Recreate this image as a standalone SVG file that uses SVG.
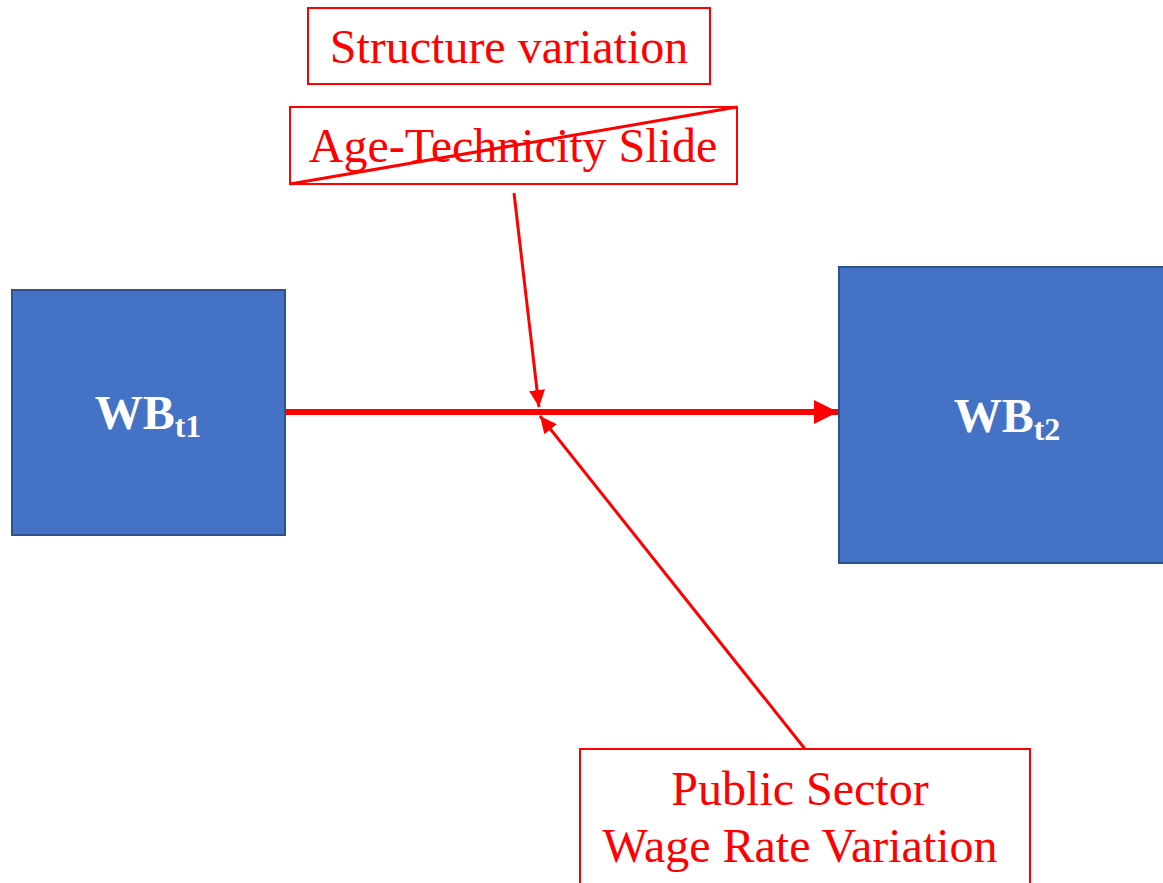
<svg xmlns="http://www.w3.org/2000/svg" width="1163" height="883" viewBox="0 0 1163 883">
<style>
.lbl{fill:none;stroke:#FF0000;stroke-width:2}
.rt{font-family:"Liberation Serif","Times New Roman",serif;font-size:48px;fill:#FF0000;text-anchor:middle}
.wb{fill:#4472C4;stroke:#2F528F;stroke-width:2}
.wt{font-family:"Liberation Serif","Times New Roman",serif;font-weight:bold;font-size:48px;fill:#FFFFFF;text-anchor:middle}
.sub{font-size:32px}
.con{stroke:#FF0000;fill:none}
</style>
<defs>
<marker id="ahBig" markerUnits="userSpaceOnUse" markerWidth="26" markerHeight="26" refX="24" refY="12" orient="auto">
<path d="M0,0 L24,12 L0,24 Z" fill="#FF0000"/>
</marker>
<marker id="ahSmall" markerUnits="userSpaceOnUse" markerWidth="18" markerHeight="18" refX="17" refY="8" orient="auto">
<path d="M0,0 L17,8 L0,16 Z" fill="#FF0000"/>
</marker>
</defs>
<rect width="1163" height="883" fill="#FFFFFF"/>
<g id="structure">
<rect class="lbl" x="308" y="8" width="402" height="76"/>
<text class="rt" x="509" y="63">Structure variation</text>
</g>
<g id="age">
<rect class="lbl" x="290" y="107" width="447" height="77"/>
<text class="rt" x="513" y="162">Age-Technicity Slide</text>
<line x1="290" y1="184" x2="737" y2="107" stroke="#FF0000" stroke-width="3"/>
</g>
<g id="wbt1">
<rect class="wb" x="12" y="290" width="273" height="245"/>
<text class="wt" x="148" y="429">WB<tspan class="sub" dy="8">t1</tspan></text>
</g>
<g id="wbt2">
<rect class="wb" x="839" y="267" width="330" height="296"/>
<text class="wt" x="1007" y="432">WB<tspan class="sub" dy="8">t2</tspan></text>
</g>
<g id="public">
<rect class="lbl" x="580" y="749" width="450" height="145"/>
<text class="rt" x="800" y="805">Public Sector</text>
<text class="rt" x="800" y="862">Wage Rate Variation</text>
</g>
<g id="connectors">
<line class="con" x1="285" y1="412" x2="838" y2="412" stroke-width="6" marker-end="url(#ahBig)"/>
<line class="con" x1="514" y1="193" x2="539" y2="407" stroke-width="3" marker-end="url(#ahSmall)"/>
<line class="con" x1="805" y1="749" x2="540" y2="416" stroke-width="3" marker-end="url(#ahSmall)"/>
</g>
</svg>
